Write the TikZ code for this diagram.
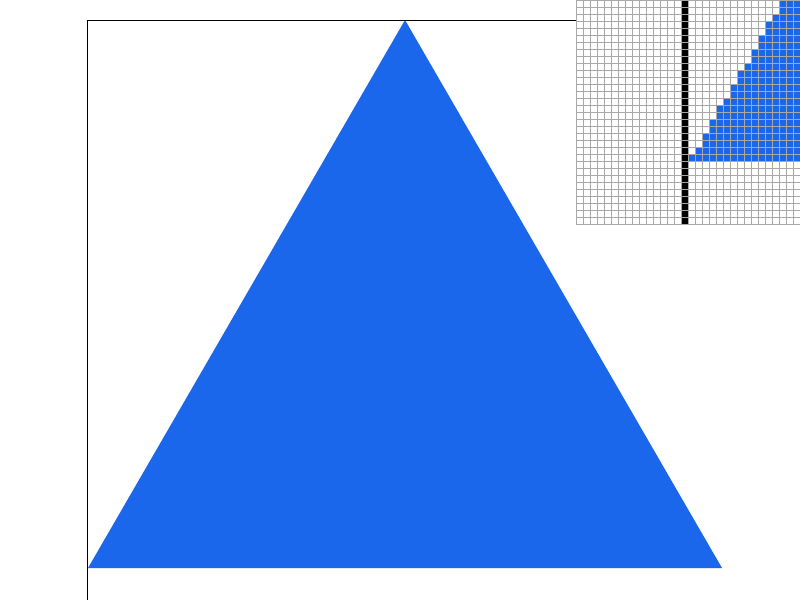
\documentclass[tikz,border=0pt]{standalone}
\usepackage{tikz}
\definecolor{triblue}{HTML}{1A67EC}
\definecolor{gridgray}{HTML}{A8A8A8}
\tikzset{
  axisline/.style={draw=black, line width=1pt},
  cellline/.style={draw=gridgray, line width=1pt}
}

\begin{document}
\begin{tikzpicture}[x=1pt, y=-1pt]
\useasboundingbox (0,0) rectangle (800,600);
% main picture
\coordinate (apex) at (405,20);
\coordinate (bl) at (88,568);
\coordinate (br) at (722,568);
\fill[triblue] (bl) -- (apex) -- (br) -- cycle;
\coordinate (corner) at (87,20);
\draw[axisline] (87,600) -- (corner) -- (580,20);
% magnified corner
\fill[white] (576,0) rectangle (800,224);
\fill[black] (681,0) rectangle (688,224);
\foreach \r/\c in {0/29,1/29,2/28,3/27,4/27,5/26,6/26,7/25,8/25,9/24,10/23,11/23,
                   12/22,13/22,14/21,15/20,16/20,17/19,18/19,19/18,20/18,21/17,22/16}
  \fill[triblue] ({576+7*\c},{7*\r}) rectangle (800,{7*\r+7});
\foreach \i in {0,...,32} {
  \draw[cellline] ({576+7*\i},0) -- ({576+7*\i},224);
  \draw[cellline] (576,{7*\i}) -- (800,{7*\i});
}
\end{tikzpicture}
\end{document}
